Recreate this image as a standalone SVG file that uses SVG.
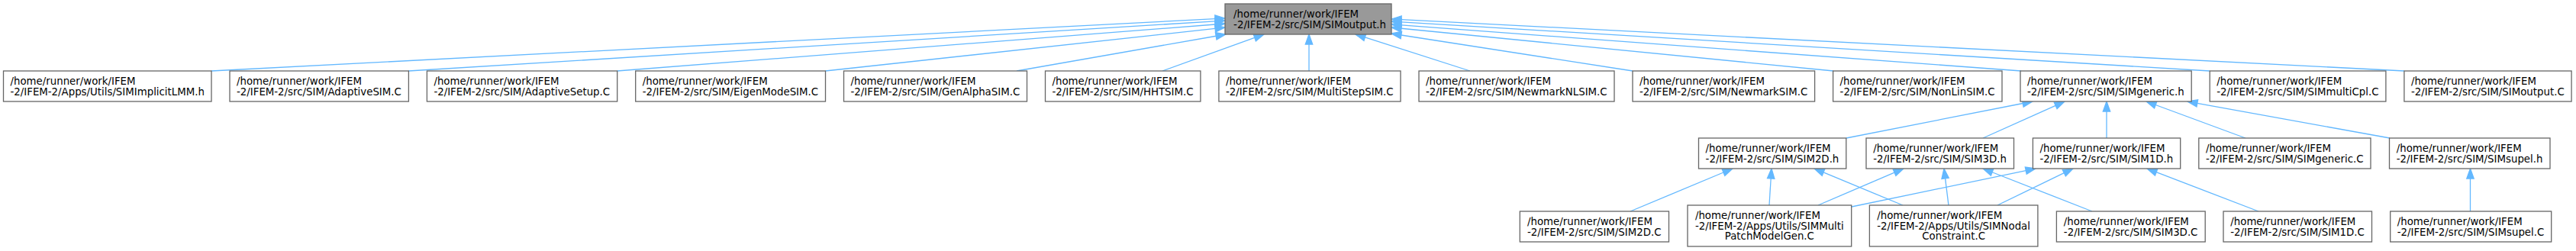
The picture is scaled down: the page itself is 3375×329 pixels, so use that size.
<svg xmlns="http://www.w3.org/2000/svg" width="3375" height="329" viewBox="0 0 3375 329">
<style>
rect{fill:#ffffff;stroke:#666666;stroke-width:1.3}
rect.main{fill:#999999}
text{font-family:"DejaVu Sans","Liberation Sans",sans-serif;font-size:13.333px;fill:#000000}
.c{text-anchor:middle}
#edges line{stroke:#63b8ff;stroke-width:1.3}
#edges polygon{fill:#63b8ff;stroke:#63b8ff;stroke-width:1.3}
</style>
<rect x="0" y="0" width="3375" height="329" style="fill:#ffffff;stroke:none"/>
<g id="edges">
<line x1="277" y1="93" x2="1592.02" y2="24.67"/><polygon points="1605,24 1592.26,29.37 1591.78,19.98"/>
<line x1="535.4" y1="93" x2="1592.02" y2="27.8"/><polygon points="1605,27 1592.31,32.49 1591.73,23.11"/>
<line x1="808.7" y1="93" x2="1592.04" y2="32.01"/><polygon points="1605,31 1592.4,36.7 1591.67,27.32"/>
<line x1="1081.5" y1="93" x2="1592.08" y2="37.41"/><polygon points="1605,36 1592.59,42.08 1591.57,32.74"/>
<line x1="1332" y1="93" x2="1593.19" y2="47.24"/><polygon points="1606,45 1594,51.87 1592.38,42.61"/>
<line x1="1523" y1="93" x2="1643.77" y2="49.41"/><polygon points="1656,45 1645.37,53.83 1642.18,44.99"/>
<line x1="1715" y1="93" x2="1715" y2="58"/><polygon points="1715,45 1710.3,58 1719.7,58"/>
<line x1="1926" y1="93" x2="1788.38" y2="48.96"/><polygon points="1776,45 1789.81,44.49 1786.95,53.44"/>
<line x1="2139" y1="93" x2="1835.85" y2="45.99"/><polygon points="1823,44 1836.57,41.35 1835.13,50.64"/>
<line x1="2402" y1="93" x2="1835.94" y2="37.27"/><polygon points="1823,36 1836.4,32.6 1835.48,41.95"/>
<line x1="2648" y1="93" x2="1835.96" y2="32.96"/><polygon points="1823,32 1836.31,28.27 1835.61,37.65"/>
<line x1="2895" y1="93" x2="1835.98" y2="28.79"/><polygon points="1823,28 1836.26,24.1 1835.7,33.48"/>
<line x1="3150" y1="93" x2="1835.98" y2="25.67"/><polygon points="1823,25 1836.22,20.98 1835.74,30.36"/>
<line x1="2419" y1="181" x2="2650.25" y2="135.51"/><polygon points="2663,133 2651.16,140.12 2649.34,130.9"/>
<line x1="2598" y1="181" x2="2693.14" y2="138.32"/><polygon points="2705,133 2695.07,142.61 2691.22,134.03"/>
<line x1="2760" y1="181" x2="2760" y2="146"/><polygon points="2760,133 2755.3,146 2764.7,146"/>
<line x1="2942" y1="181" x2="2824.19" y2="137.5"/><polygon points="2812,133 2825.82,133.09 2822.57,141.91"/>
<line x1="3131" y1="181" x2="2878.79" y2="135.32"/><polygon points="2866,133 2879.63,130.69 2877.96,139.94"/>
<line x1="2136" y1="277" x2="2258" y2="226.01"/><polygon points="2270,221 2259.81,230.35 2256.19,221.68"/>
<line x1="2318" y1="269" x2="2320.19" y2="233.98"/><polygon points="2321,221 2324.88,234.27 2315.5,233.68"/>
<line x1="2493" y1="269" x2="2389.02" y2="225.97"/><polygon points="2377,221 2390.81,221.63 2387.22,230.32"/>
<line x1="2382" y1="269" x2="2482.05" y2="226.12"/><polygon points="2494,221 2483.9,230.44 2480.2,221.8"/>
<line x1="2426" y1="271" x2="2654.27" y2="223.64"/><polygon points="2667,221 2655.23,228.24 2653.32,219.04"/>
<line x1="2553" y1="269" x2="2548.61" y2="233.9"/><polygon points="2547,221 2553.27,233.32 2543.95,234.48"/>
<line x1="2617" y1="269" x2="2704.3" y2="226.67"/><polygon points="2716,221 2706.35,230.9 2702.25,222.44"/>
<line x1="2741" y1="277" x2="2610.1" y2="225.74"/><polygon points="2598,221 2611.82,221.36 2608.39,230.12"/>
<line x1="2959" y1="277" x2="2825.14" y2="225.66"/><polygon points="2813,221 2826.82,221.27 2823.45,230.04"/>
<line x1="3236.5" y1="277" x2="3236.5" y2="234"/><polygon points="3236.5,221 3231.8,234 3241.2,234"/>
</g>
<g id="node-main"><rect class="main" x="1605" y="5" width="218" height="40"/><text x="1616.1" y="23">/home/runner/work/IFEM</text><text x="1616.1" y="36.7">-2/IFEM-2/src/SIM/SIMoutput.h</text></g>
<g id="node-SIMImplicitLMM"><rect x="4.5" y="93" width="272.5" height="40"/><text x="13.5" y="111">/home/runner/work/IFEM</text><text x="13.5" y="124.7">-2/IFEM-2/Apps/Utils/SIMImplicitLMM.h</text></g>
<g id="node-AdaptiveSIM"><rect x="301" y="93" width="234.4" height="40"/><text x="310" y="111">/home/runner/work/IFEM</text><text x="310" y="124.7">-2/IFEM-2/src/SIM/AdaptiveSIM.C</text></g>
<g id="node-AdaptiveSetup"><rect x="559.4" y="93" width="249.3" height="40"/><text x="568.4" y="111">/home/runner/work/IFEM</text><text x="568.4" y="124.7">-2/IFEM-2/src/SIM/AdaptiveSetup.C</text></g>
<g id="node-EigenModeSIM"><rect x="832.7" y="93" width="248.8" height="40"/><text x="841.7" y="111">/home/runner/work/IFEM</text><text x="841.7" y="124.7">-2/IFEM-2/src/SIM/EigenModeSIM.C</text></g>
<g id="node-GenAlphaSIM"><rect x="1105.5" y="93" width="240" height="40"/><text x="1114.5" y="111">/home/runner/work/IFEM</text><text x="1114.5" y="124.7">-2/IFEM-2/src/SIM/GenAlphaSIM.C</text></g>
<g id="node-HHTSIM"><rect x="1369.5" y="93" width="203.4" height="40"/><text x="1378.5" y="111">/home/runner/work/IFEM</text><text x="1378.5" y="124.7">-2/IFEM-2/src/SIM/HHTSIM.C</text></g>
<g id="node-MultiStepSIM"><rect x="1596.9" y="93" width="238.1" height="40"/><text x="1605.9" y="111">/home/runner/work/IFEM</text><text x="1605.9" y="124.7">-2/IFEM-2/src/SIM/MultiStepSIM.C</text></g>
<g id="node-NewmarkNLSIM"><rect x="1859" y="93" width="256" height="40"/><text x="1868" y="111">/home/runner/work/IFEM</text><text x="1868" y="124.7">-2/IFEM-2/src/SIM/NewmarkNLSIM.C</text></g>
<g id="node-NewmarkSIM"><rect x="2139" y="93" width="238.6" height="40"/><text x="2148" y="111">/home/runner/work/IFEM</text><text x="2148" y="124.7">-2/IFEM-2/src/SIM/NewmarkSIM.C</text></g>
<g id="node-NonLinSIM"><rect x="2401.6" y="93" width="221.4" height="40"/><text x="2410.6" y="111">/home/runner/work/IFEM</text><text x="2410.6" y="124.7">-2/IFEM-2/src/SIM/NonLinSIM.C</text></g>
<g id="node-SIMgeneric-h"><rect x="2647" y="93" width="224.2" height="40"/><text x="2656" y="111">/home/runner/work/IFEM</text><text x="2656" y="124.7">-2/IFEM-2/src/SIM/SIMgeneric.h</text></g>
<g id="node-SIMmultiCpl"><rect x="2895.2" y="93" width="230.7" height="40"/><text x="2904.2" y="111">/home/runner/work/IFEM</text><text x="2904.2" y="124.7">-2/IFEM-2/src/SIM/SIMmultiCpl.C</text></g>
<g id="node-SIMoutput-C"><rect x="3149.9" y="93" width="219.2" height="40"/><text x="3158.9" y="111">/home/runner/work/IFEM</text><text x="3158.9" y="124.7">-2/IFEM-2/src/SIM/SIMoutput.C</text></g>
<g id="node-SIM2D-h"><rect x="2225.5" y="181" width="193.3" height="40"/><text x="2234.6" y="199">/home/runner/work/IFEM</text><text x="2234.6" y="212.7">-2/IFEM-2/src/SIM/SIM2D.h</text></g>
<g id="node-SIM3D-h"><rect x="2445" y="181" width="193.5" height="40"/><text x="2454.2" y="199">/home/runner/work/IFEM</text><text x="2454.2" y="212.7">-2/IFEM-2/src/SIM/SIM3D.h</text></g>
<g id="node-SIM1D-h"><rect x="2663.4" y="181" width="193.3" height="40"/><text x="2672.5" y="199">/home/runner/work/IFEM</text><text x="2672.5" y="212.7">-2/IFEM-2/src/SIM/SIM1D.h</text></g>
<g id="node-SIMgeneric-C"><rect x="2880.8" y="181" width="225.2" height="40"/><text x="2889.9" y="199">/home/runner/work/IFEM</text><text x="2889.9" y="212.7">-2/IFEM-2/src/SIM/SIMgeneric.C</text></g>
<g id="node-SIMsupel-h"><rect x="3130.5" y="181" width="210.5" height="40"/><text x="3139.7" y="199">/home/runner/work/IFEM</text><text x="3139.7" y="212.7">-2/IFEM-2/src/SIM/SIMsupel.h</text></g>
<g id="node-SIM2D-C"><rect x="1991.3" y="277" width="195.2" height="40"/><text x="2000.95" y="295">/home/runner/work/IFEM</text><text x="2000.95" y="308.7">-2/IFEM-2/src/SIM/SIM2D.C</text></g>
<g id="node-SIMMultiPatchModelGen"><rect x="2211" y="269" width="214.7" height="54"/><text x="2220.9" y="287">/home/runner/work/IFEM</text><text x="2220.9" y="300.7">-2/IFEM-2/Apps/Utils/SIMMulti</text><text class="c" x="2318.35" y="314.4">PatchModelGen.C</text></g>
<g id="node-SIMNodalConstraint"><rect x="2449.4" y="269" width="220.5" height="54"/><text x="2459.25" y="287">/home/runner/work/IFEM</text><text x="2459.25" y="300.7">-2/IFEM-2/Apps/Utils/SIMNodal</text><text class="c" x="2559.65" y="314.4">Constraint.C</text></g>
<g id="node-SIM3D-C"><rect x="2694.4" y="277" width="194.8" height="40"/><text x="2703.85" y="295">/home/runner/work/IFEM</text><text x="2703.85" y="308.7">-2/IFEM-2/src/SIM/SIM3D.C</text></g>
<g id="node-SIM1D-C"><rect x="2913" y="277" width="194.5" height="40"/><text x="2922.3" y="295">/home/runner/work/IFEM</text><text x="2922.3" y="308.7">-2/IFEM-2/src/SIM/SIM1D.C</text></g>
<g id="node-SIMsupel-C"><rect x="3131.7" y="277" width="211" height="40"/><text x="3140.7" y="295">/home/runner/work/IFEM</text><text x="3140.7" y="308.7">-2/IFEM-2/src/SIM/SIMsupel.C</text></g>
</svg>
